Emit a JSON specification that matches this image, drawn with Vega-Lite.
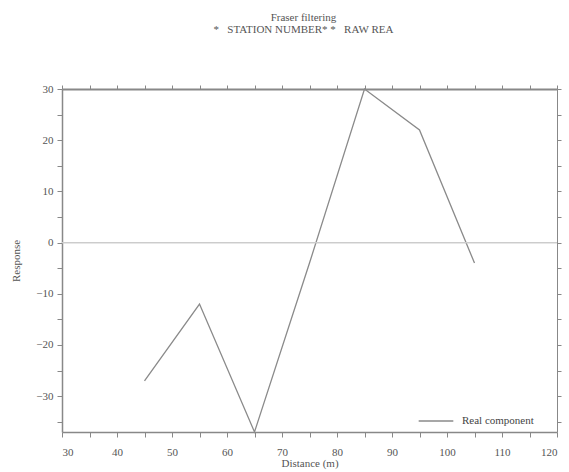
{
  "$schema": "https://vega.github.io/schema/vega-lite/v6.json",
  "autosize": {"type": "none"},
  "width": 495,
  "height": 343,
  "padding": {"left": 62, "top": 89, "right": 12, "bottom": 40},
  "background": "white",
  "title": {
    "text": "Fraser filtering",
    "subtitle": "*\u00a0\u00a0\u00a0STATION NUMBER* *\u00a0\u00a0\u00a0RAW REA",
    "font": "Liberation Serif",
    "fontSize": 11,
    "fontWeight": "normal",
    "color": "#555",
    "subtitleFont": "Liberation Serif",
    "subtitleFontSize": 11,
    "subtitleColor": "#555",
    "subtitlePadding": 1,
    "anchor": "middle",
    "dx": -6,
    "offset": 48
  },
  "config": {
    "view": {"stroke": null},
    "axis": {
      "labelFont": "Liberation Serif",
      "titleFont": "Liberation Serif",
      "labelFontSize": 11,
      "titleFontSize": 11,
      "titleFontWeight": "normal",
      "labelColor": "#555",
      "titleColor": "#555",
      "domainColor": "#888",
      "tickColor": "#888",
      "grid": false
    }
  },
  "data": {
    "values": [
      {"distance": 45, "response": -27, "series": "Real component"},
      {"distance": 55, "response": -12, "series": "Real component"},
      {"distance": 65, "response": -37, "series": "Real component"},
      {"distance": 75, "response": -4, "series": "Real component"},
      {"distance": 85, "response": 30, "series": "Real component"},
      {"distance": 95, "response": 22, "series": "Real component"},
      {"distance": 105, "response": -4, "series": "Real component"}
    ]
  },
  "layer": [
    {
      "mark": {"type": "line", "strokeWidth": 1.3},
      "encoding": {
        "x": {
          "field": "distance",
          "type": "quantitative",
          "scale": {"domain": [30, 120], "nice": false},
          "axis": {
            "orient": "bottom",
            "title": "Distance (m)",
            "values": [30, 35, 40, 45, 50, 55, 60, 65, 70, 75, 80, 85, 90, 95, 100, 105, 110, 115, 120],
            "labelExpr": "datum.value % 10 === 0 ? datum.label : ''",
            "tickSize": 5,
            "domainWidth": 1.5,
            "labelPadding": 9,
            "titlePadding": 0
          }
        },
        "y": {
          "field": "response",
          "type": "quantitative",
          "scale": {"domain": [-37, 30], "nice": false},
          "axis": {
            "orient": "left",
            "title": "Response",
            "values": [-35, -30, -25, -20, -15, -10, -5, 0, 5, 10, 15, 20, 25, 30],
            "labelExpr": "datum.value % 10 === 0 ? datum.label : ''",
            "tickSize": 5,
            "domainWidth": 1.5,
            "labelPadding": 4,
            "titlePadding": 14
          }
        },
        "color": {
          "field": "series",
          "type": "nominal",
          "scale": {"range": ["#8a8a8a"]},
          "legend": {
            "title": null,
            "orient": "none",
            "legendX": 356,
            "legendY": 314,
            "symbolType": "stroke",
            "symbolSize": 1200,
            "symbolStrokeWidth": 1.3,
            "labelFont": "Liberation Serif",
            "labelFontSize": 11,
            "labelColor": "#444",
            "labelOffset": 8
          }
        }
      }
    },
    {
      "mark": {"type": "rule", "color": "#ccc", "strokeWidth": 1},
      "encoding": {
        "y": {"datum": 0, "type": "quantitative", "axis": null}
      }
    },
    {
      "mark": {"type": "point", "opacity": 0},
      "encoding": {
        "x": {
          "field": "distance",
          "type": "quantitative",
          "axis": {
            "orient": "top",
            "title": null,
            "labels": false,
            "values": [30, 35, 40, 45, 50, 55, 60, 65, 70, 75, 80, 85, 90, 95, 100, 105, 110, 115, 120],
            "tickSize": 4,
            "domainWidth": 2
          }
        },
        "y": {
          "field": "response",
          "type": "quantitative",
          "axis": {
            "orient": "right",
            "title": null,
            "labels": false,
            "values": [-35, -30, -25, -20, -15, -10, -5, 0, 5, 10, 15, 20, 25, 30],
            "tickSize": 4
          }
        }
      }
    }
  ],
  "resolve": {"axis": {"x": "independent", "y": "independent"}}
}
